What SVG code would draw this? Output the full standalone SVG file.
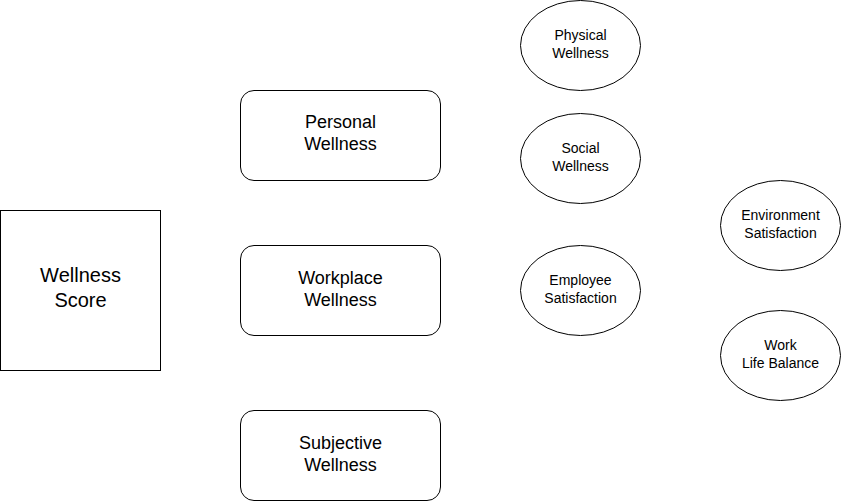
<svg xmlns="http://www.w3.org/2000/svg" width="841" height="501" viewBox="0 0 841 501">
<style>
.s{fill:#fff;stroke:#000;stroke-width:1}
text{font-family:"Liberation Sans",Arial,sans-serif;fill:#000;text-anchor:middle}
.l{font-size:20px}
.m{font-size:18px}
.e{font-size:14px}
</style>
<rect width="841" height="501" fill="#fff"/>
<g id="connectors"></g>
<g id="wellness-score"><rect class="s" x="0.5" y="210.5" width="160" height="160"/><text class="l" x="80.5" y="282">Wellness</text><text class="l" x="80.5" y="307">Score</text></g>
<g id="personal-wellness"><rect class="s" x="240.5" y="90.5" width="200" height="90" rx="13.5"/><text class="m" x="340.5" y="128">Personal</text><text class="m" x="340.5" y="150">Wellness</text></g>
<g id="workplace-wellness"><rect class="s" x="240.5" y="245.5" width="200" height="90" rx="13.5"/><text class="m" x="340.5" y="284">Workplace</text><text class="m" x="340.5" y="306">Wellness</text></g>
<g id="subjective-wellness"><rect class="s" x="240.5" y="410.5" width="200" height="90" rx="13.5"/><text class="m" x="340.5" y="449">Subjective</text><text class="m" x="340.5" y="471">Wellness</text></g>
<g id="physical-wellness"><ellipse class="s" cx="580.5" cy="45.5" rx="60" ry="45"/><text class="e" x="580.5" y="40">Physical</text><text class="e" x="580.5" y="58">Wellness</text></g>
<g id="social-wellness"><ellipse class="s" cx="580.5" cy="158.5" rx="60" ry="45"/><text class="e" x="580.5" y="153">Social</text><text class="e" x="580.5" y="171">Wellness</text></g>
<g id="employee-satisfaction"><ellipse class="s" cx="580.5" cy="290.5" rx="60" ry="45"/><text class="e" x="580.5" y="285">Employee</text><text class="e" x="580.5" y="303">Satisfaction</text></g>
<g id="environment-satisfaction"><ellipse class="s" cx="780.5" cy="225.5" rx="60" ry="45"/><text class="e" x="780.5" y="220">Environment</text><text class="e" x="780.5" y="238">Satisfaction</text></g>
<g id="work-life-balance"><ellipse class="s" cx="780.5" cy="355.5" rx="60" ry="45"/><text class="e" x="780.5" y="350">Work</text><text class="e" x="780.5" y="368">Life Balance</text></g>
</svg>
